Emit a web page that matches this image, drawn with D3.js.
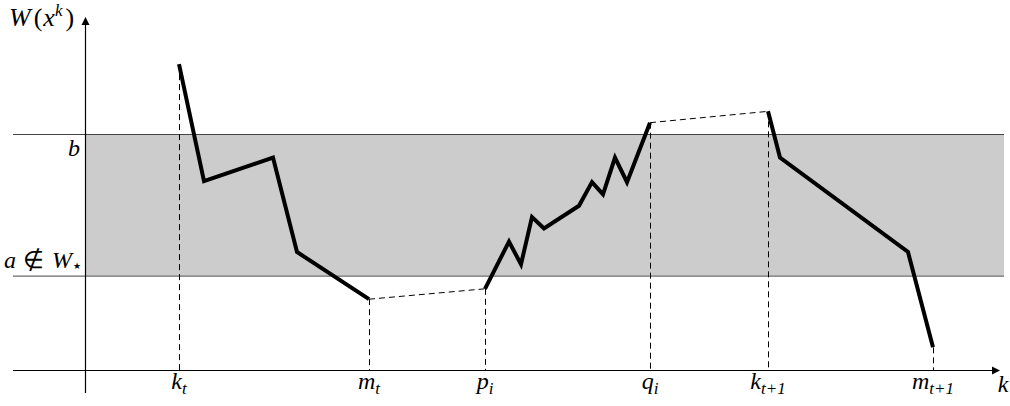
<!DOCTYPE html>
<html><head><meta charset="utf-8">
<script src="https://cdn.jsdelivr.net/npm/d3@7"></script>
<style>
html,body{margin:0;padding:0;background:#fff;}
</style></head>
<body><svg id="c" width="1010" height="406"></svg>
<script>
// ---- data ----
const bandLow = 10;   // a
const bandHigh = 25;  // b
const seg1X = [9.4, 11.9, 18.8, 21.2, 28.4];
const seg1Y = [32.4, 20.0, 22.5, 12.5, 7.5];
const seg2X = [40.0, 42.4, 43.6, 44.7, 45.9, 49.4, 50.7, 51.8, 53.0, 54.2, 56.5];
const seg2Y = [8.6, 13.6, 11.2, 16.2, 15.0, 17.4, 19.9, 18.6, 22.5, 19.9, 26.2];
const seg3X = [68.3, 69.5, 82.3, 84.8];
const seg3Y = [27.4, 22.5, 12.5, 2.4];
const tickValuesX = [9.4, 28.4, 40.0, 56.5, 68.3, 84.8];
const tickBase = ["k", "m", "p", "q", "k", "m"];
const tickSub = ["t", "t", "i", "i", "t+1", "t+1"];

const FONT = "'Liberation Serif'";

// ---- scales ----
const svg = d3.select("#c");
const x = d3.scaleLinear().domain([0, 91.5]).range([85, 1000]);
const y = d3.scaleLinear().domain([0, 25]).range([370, 134]);
const xLeft = 13, xRight = 1004;

// band
svg.append("rect").attr("x", x(0)).attr("y", y(bandHigh))
  .attr("width", xRight - x(0)).attr("height", y(bandLow) - y(bandHigh))
  .attr("fill", "#cccccc");
[bandHigh, bandLow].forEach(v => {
  svg.append("line").attr("x1", xLeft).attr("x2", xRight)
    .attr("y1", y(v) + 0.5).attr("y2", y(v) + 0.5)
    .attr("stroke", "#444").attr("stroke-width", 1);
});

// axes via d3 axis (no ticks)
const xAxis = d3.axisBottom(x).tickValues([]).tickSize(0).tickSizeOuter(0);
const gx = svg.append("g").attr("transform", `translate(0,${y(0) + 0.5})`).call(xAxis);
gx.select(".domain").remove();
svg.append("line").attr("x1", xLeft).attr("x2", x(91.5) - 4)
  .attr("y1", y(0) + 0.5).attr("y2", y(0) + 0.5).attr("stroke", "#000").attr("stroke-width", 1.2);
svg.append("path").attr("d", `M${x(91.5)},${y(0) + 0.5} l-8,-4 l0,8 z`).attr("fill", "#000");

const yTop = 37.4;
svg.append("line").attr("x1", x(0) + 0.5).attr("x2", x(0) + 0.5)
  .attr("y1", 393).attr("y2", y(yTop) + 4).attr("stroke", "#000").attr("stroke-width", 1.2);
svg.append("path").attr("d", `M${x(0) + 0.5},${y(yTop)} l-4,8 l8,0 z`).attr("fill", "#000");

// vertical dashed drop lines
const endsX = [seg1X[0], seg1X[seg1X.length - 1], seg2X[0], seg2X[seg2X.length - 1], seg3X[0], seg3X[seg3X.length - 1]];
const endsY = [seg1Y[0], seg1Y[seg1Y.length - 1], seg2Y[0], seg2Y[seg2Y.length - 1], seg3Y[0], seg3Y[seg3Y.length - 1]];
svg.selectAll("line.drop").data(endsX).join("line").attr("class", "drop")
  .attr("x1", d => x(d) + 0.5).attr("x2", d => x(d) + 0.5)
  .attr("y1", (d, i) => y(endsY[i])).attr("y2", y(0))
  .attr("stroke", "#000").attr("stroke-width", 1).attr("stroke-dasharray", "6,4");

// dashed connectors
const conn = [[1, 2], [3, 4]];
conn.forEach(([a, b]) => {
  svg.append("line").attr("x1", x(endsX[a])).attr("y1", y(endsY[a]))
    .attr("x2", x(endsX[b])).attr("y2", y(endsY[b]))
    .attr("stroke", "#000").attr("stroke-width", 1).attr("stroke-dasharray", "6,4");
});

// thick segments
const line = d3.line().x(d => x(d[0])).y(d => y(d[1]));
[[seg1X, seg1Y], [seg2X, seg2Y], [seg3X, seg3Y]].forEach(([xs, ys]) => {
  svg.append("path").attr("d", line(xs.map((v, i) => [v, ys[i]])))
    .attr("fill", "none").attr("stroke", "#000").attr("stroke-width", 4)
    .attr("stroke-linejoin", "miter").attr("stroke-linecap", "butt");
});

// text helper
function txt(sel) { return sel.attr("font-family", FONT).attr("font-style", "italic").attr("fill", "#000"); }

// tick labels
const fs = 24;
const tl = txt(svg.selectAll("text.tick").data(tickValuesX).join("text").attr("class", "tick"))
  .attr("x", d => x(d)).attr("y", 389).attr("text-anchor", "middle").attr("font-size", fs);
tl.append("tspan").text((d, i) => tickBase[i]);
tl.append("tspan").attr("dy", 5).attr("font-size", 17).text((d, i) => tickSub[i]);

txt(svg.append("text")).attr("x", 1003).attr("y", 392).attr("text-anchor", "middle")
  .attr("font-size", fs).text("k");

// y labels
txt(svg.append("text")).attr("x", 80).attr("y", 156).attr("text-anchor", "end")
  .attr("font-size", fs).text("b");
const at = txt(svg.append("text")).attr("x", 81).attr("y", 268).attr("text-anchor", "end").attr("font-size", fs);
at.append("tspan").text("a ");
at.append("tspan").attr("font-style", "normal").attr("dx", 1).text("\u2209");
at.append("tspan").attr("dx", 2).text(" W");
at.append("tspan").attr("font-style", "normal").attr("font-family", "'DejaVu Sans'")
  .attr("font-size", 9).attr("dy", 1).attr("dx", 1).text("\u2605");

const wl = txt(svg.append("text")).attr("x", 9).attr("y", 26).attr("font-size", 26);
wl.append("tspan").text("W");
wl.append("tspan").attr("font-style", "normal").attr("dx", 3).text("(");
wl.append("tspan").attr("dx", 1).text("x");
wl.append("tspan").attr("font-size", 17).attr("dy", -10).text("k");
wl.append("tspan").attr("font-style", "normal").attr("dy", 10).attr("dx", 3).text(")");
</script></body></html>
